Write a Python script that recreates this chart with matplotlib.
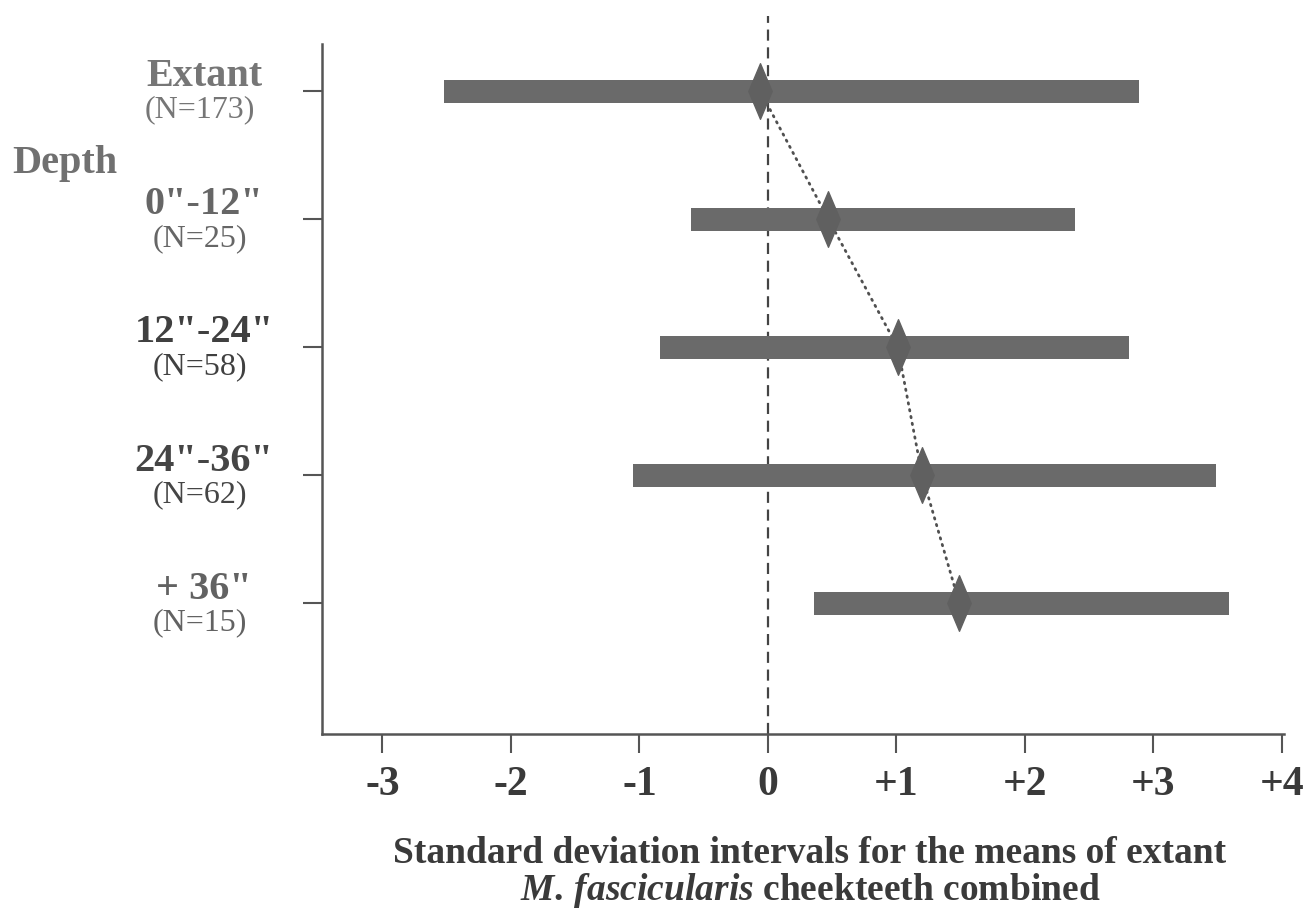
import matplotlib.pyplot as plt
from matplotlib.path import Path

plt.rcParams['font.family'] = ['Liberation Serif', 'DejaVu Serif']
plt.rcParams['mathtext.fontset'] = 'custom'
plt.rcParams['mathtext.it'] = 'Liberation Serif:italic:bold'
plt.rcParams['mathtext.rm'] = 'Liberation Serif:bold'

# data: SD interval (low, high) and mean for each depth group
groups = ['Extant', '0"-12"', '12"-24"', '24"-36"', '+ 36"']
counts = ['(N=173)', '(N=25)', '(N=58)', '(N=62)', '(N=15)']
low = [-2.52, -0.60, -0.84, -1.05, 0.36]
high = [2.89, 2.39, 2.81, 3.49, 3.59]
means = [-0.06, 0.47, 1.01, 1.20, 1.49]
xticks = [-3, -2, -1, 0, 1, 2, 3, 4]
xtick_labels = ['-3', '-2', '-1', '0', '+1', '+2', '+3', '+4']
label_colors = ['#767676', '#666666', '#404040', '#454545', '#626262']

ypos = [len(groups) - i for i in range(len(groups))]
bar_color = '#6a6a6a'
axis_color = '#555555'

fig = plt.figure(figsize=(13.04, 9.12), dpi=100)
ax = fig.add_axes([0.247, 0.194, 0.738, 0.757])

# tall narrow diamond marker
diamond = Path([(0, 1), (0.42, 0), (0, -1), (-0.42, 0), (0, 1)],
               [Path.MOVETO, Path.LINETO, Path.LINETO, Path.LINETO, Path.CLOSEPOLY])

ax.axvline(0, ymin=0, ymax=1.04, color='#444444', lw=1.6, ls=(0, (5, 3)),
           clip_on=False, zorder=1)
ax.plot(means, ypos, color='#505050', lw=2.0, ls=(0, (0.5, 2.0)),
        dash_capstyle='round', zorder=1)
ax.barh(ypos, [h - l for l, h in zip(low, high)], left=low, height=0.18,
        color=bar_color, zorder=2)
ax.plot(means, ypos, ls='none', marker=diamond, markersize=40,
        color='#606060', mec='#606060', zorder=3)

ax.set_xlim(-3.47, 4.02)
ax.set_ylim(-0.02, 5.37)
ax.set_xticks(xticks)
ax.set_xticklabels(xtick_labels, fontsize=30, fontweight='bold', color='#3a3a3a')
ax.set_yticks(ypos)
ax.set_yticklabels([])
ax.tick_params(axis='both', length=14, width=1.5, color=axis_color, direction='out')
ax.tick_params(axis='x', pad=8)

for side in ['top', 'right']:
    ax.spines[side].set_visible(False)
for side in ['left', 'bottom']:
    ax.spines[side].set_color(axis_color)
    ax.spines[side].set_linewidth(1.8)

# two-line group labels left of the axis
trans = ax.get_yaxis_transform()
for y, g, n, c in zip(ypos, groups, counts, label_colors):
    ax.annotate(g, xy=(0, y), xycoords=trans, xytext=(-85, 11), textcoords='offset points',
                ha='center', va='center', fontsize=29, fontweight='bold', color=c)
    ax.annotate(n, xy=(0, y), xycoords=trans, xytext=(-88, -13), textcoords='offset points',
                ha='center', va='center', fontsize=23, color=c)

fig.text(0.05, 0.821, 'Depth', ha='center', va='center', fontsize=29,
         fontweight='bold', color='#707070')

fig.text(0.621, 0.043,
         'Standard deviation intervals for the means of extant\n'
         r'$\mathit{M.\,fascicularis}$ cheekteeth combined',
         ha='center', va='center', ma='center', linespacing=1.0,
         fontsize=27, fontweight='bold', color='#3a3a3a')

fig.savefig('out.png', dpi=100)
